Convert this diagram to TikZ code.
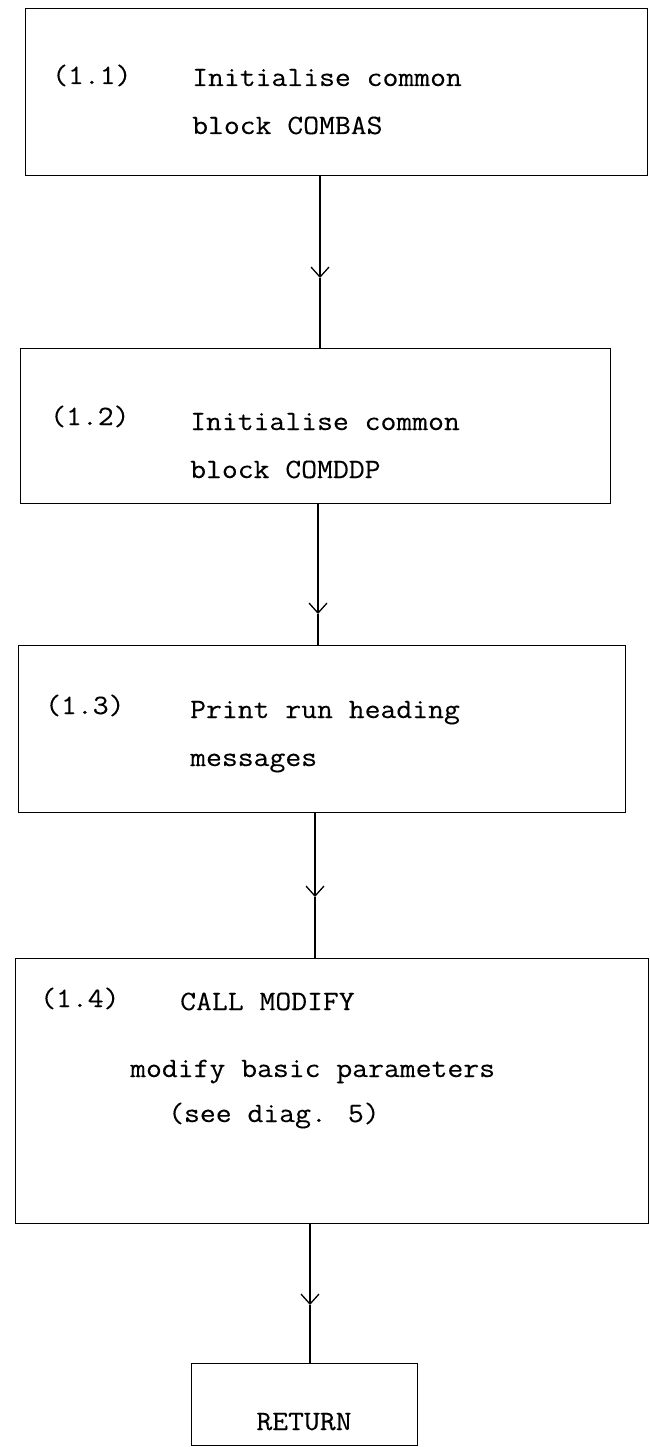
\documentclass[tikz,border=0pt]{standalone}
\usepackage{fontspec}
\newfontfamily\twfont{Latin Modern Mono}[FakeBold=0.2]
\usetikzlibrary{arrows.meta}
\newcommand{\tw}[1]{\scalebox{1.1}[1]{#1}}
\begin{document}
\begin{tikzpicture}[x=1pt,y=-1pt,
  box/.style={draw, line width=1.3pt, rectangle, anchor=north west, inner sep=0pt},
  lbl/.style={anchor=base west, inner sep=0pt, font=\fontsize{28}{34}\selectfont\twfont},
  conn/.style={line width=1.3pt},
  head/.style={line width=1.3pt, -{Straight Barb[length=10pt,width=18pt,line width=1.3pt]}}]
\useasboundingbox (0,0) rectangle (649,1447);
% boxes
\node[box, minimum width=622pt, minimum height=167pt] (b1) at (25,8) {};
\node[box, minimum width=590pt, minimum height=155pt] (b2) at (20,348) {};
\node[box, minimum width=607pt, minimum height=167pt] (b3) at (18,645) {};
\node[box, minimum width=633pt, minimum height=265pt] (b4) at (15,958) {};
\node[box, minimum width=226pt, minimum height=82pt] (b5) at (191,1363) {};
% texts
\node[lbl] (t11) at (52,84) {\tw{(1.1)}};
\node[lbl] (t12) at (192,86) {\tw{Initialise common}};
\node[lbl] (t13) at (192,134) {\tw{block COMBAS}};
\node[lbl] (t21) at (50,425) {\tw{(1.2)}};
\node[lbl] (t22) at (190,430) {\tw{Initialise common}};
\node[lbl] (t23) at (190,478) {\tw{block COMDDP}};
\node[lbl] (t31) at (45,714) {\tw{(1.3)}};
\node[lbl] (t32) at (190,718) {\tw{Print run heading}};
\node[lbl] (t33) at (190,766) {\tw{messages}};
\node[lbl] (t41) at (40,1007) {\tw{(1.4)}};
\node[lbl] (t42) at (180,1010) {\tw{CALL MODIFY}};
\node[lbl] (t43) at (130,1077) {\tw{modify basic parameters}};
\node[lbl] (t44) at (168,1122) {\tw{(see diag. 5)}};
\node[lbl, anchor=base] (t51) at (304,1430) {\tw{RETURN}};
% connectors
\coordinate (h1) at (320,278);
\coordinate (h2) at (318,614);
\coordinate (h3) at (315,897);
\coordinate (h4) at (310,1305);
\draw[head] (b1.south -| h1) -- (h1);
\draw[conn] (h1) -- (b2.north -| h1);
\draw[head] (b2.south -| h2) -- (h2);
\draw[conn] (h2) -- (b3.north -| h2);
\draw[head] (b3.south -| h3) -- (h3);
\draw[conn] (h3) -- (b4.north -| h3);
\draw[head] (b4.south -| h4) -- (h4);
\draw[conn] (h4) -- (b5.north -| h4);
\end{tikzpicture}
\end{document}
